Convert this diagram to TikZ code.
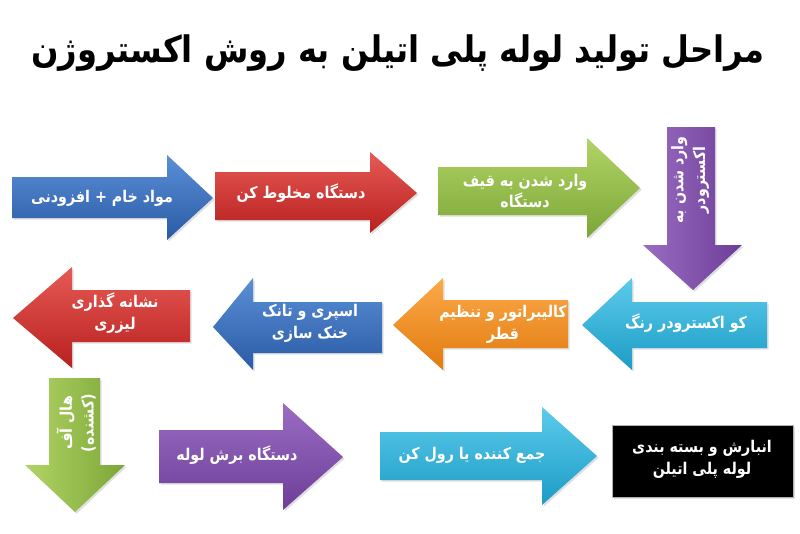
\documentclass[tikz,border=0pt]{standalone}
\usepackage{fontspec}
\usepackage{tikz}
\usetikzlibrary{shadows}
\newfontfamily\arabicfont[Script=Arabic, FakeStretch=0.88]{DejaVu Sans}
\TeXXeTstate=1
\newcommand{\rline}[1]{\beginR #1\endR}

\definecolor{blueA}{HTML}{5A8FD6}\definecolor{blueB}{HTML}{2A5BA6}
\definecolor{redA}{HTML}{E65A55}\definecolor{redB}{HTML}{B8201E}
\definecolor{greenA}{HTML}{B2D466}\definecolor{greenB}{HTML}{7BA637}
\definecolor{purpA}{HTML}{9A6CC2}\definecolor{purpB}{HTML}{6C3E98}
\definecolor{cyanA}{HTML}{5CCBEB}\definecolor{cyanB}{HTML}{1C9CC6}
\definecolor{oranA}{HTML}{FBAA4A}\definecolor{oranB}{HTML}{E27A0E}

\tikzset{
  stage/.style={drop shadow={opacity=0.25, shadow xshift=1.2pt, shadow yshift=-1.2pt}},
  stagetext/.style={text=white, align=center, inner sep=0pt,
    font=\arabicfont\bfseries\fontsize{11.5}{15.5}\selectfont},
}

\begin{document}
\begin{tikzpicture}[x=0.025cm, y=-0.025cm]
        \useasboundingbox (0,0) rectangle (800,533);

        \node [font=\arabicfont\bfseries\fontsize{26}{30}\selectfont] (title) at (398,53) {\rline{مراحل تولید لوله  پلی اتیلن به روش اکستروژن}};

        \shade [stage, top color=blueA, bottom color=blueB]   (12,177) -- (167,177) -- (167,155) -- (213,198) -- (167,240) -- (167,218) -- (12,218) -- cycle;
        \shade [stage, top color=redA, bottom color=redB]     (215,172) -- (370,172) -- (370,152) -- (417,193) -- (370,233) -- (370,220) -- (215,220) -- cycle;
        \shade [stage, top color=greenA, bottom color=greenB] (438,167) -- (587,167) -- (587,138) -- (640,188) -- (587,238) -- (587,215) -- (438,215) -- cycle;
        \shade [stage, left color=purpA, right color=purpB]   (667,127) -- (715,127) -- (715,245) -- (742,245) -- (693,290) -- (643,245) -- (667,245) -- cycle;

        \shade [stage, top color=cyanA, bottom color=cyanB]   (767,302) -- (632,302) -- (632,278) -- (582,325) -- (632,370) -- (632,348) -- (767,348) -- cycle;
        \shade [stage, top color=oranA, bottom color=oranB]   (568,300) -- (443,300) -- (443,278) -- (393,325) -- (443,370) -- (443,348) -- (568,348) -- cycle;
        \shade [stage, top color=blueA, bottom color=blueB]   (382,302) -- (253,302) -- (253,278) -- (213,327) -- (253,370) -- (253,353) -- (382,353) -- cycle;
        \shade [stage, top color=redA, bottom color=redB]     (190,290) -- (72,290) -- (72,267) -- (13,318) -- (72,368) -- (72,342) -- (190,342) -- cycle;

        \shade [stage, left color=greenA, right color=greenB] (49,378) -- (100,378) -- (100,465) -- (125,465) -- (75,512) -- (25,465) -- (49,465) -- cycle;
        \shade [stage, top color=purpA, bottom color=purpB]   (159,430) -- (283,430) -- (283,403) -- (343,457) -- (283,510) -- (283,483) -- (159,483) -- cycle;
        \shade [stage, top color=cyanA, bottom color=cyanB]   (380,432) -- (542,432) -- (542,407) -- (597,456) -- (542,505) -- (542,480) -- (380,480) -- cycle;
        \draw  [stage, fill=black, draw=gray!60]              (612,425) rectangle (793,497);

        \node [stagetext] (raw)      at (102,198) {\rline{مواد خام + افزودنی}};
        \node [stagetext] (mixer)    at (301,193) {\rline{دستگاه مخلوط کن}};
        \node [stagetext] (hopper)   at (525,191) {\rline{وارد شدن به قیف}\\\rline{دستگاه}};
        \node [stagetext, rotate=90] (extruder) at (690,180) {\rline{وارد شدن به}\\\rline{اکسترودر}};
        \node [stagetext] (coex)     at (686,323) {\rline{کو اکسترودر رنگ}};
        \node [stagetext] (calib)    at (503,324) {\rline{کالیبراتور و تنظیم}\\\rline{قطر}};
        \node [stagetext] (cooling)  at (310,323) {\rline{اسپری و تانک}\\\rline{خنک سازی}};
        \node [stagetext] (laser)    at (115,313) {\rline{نشانه گذاری}\\\rline{لیزری}};
        \node [stagetext, rotate=90] (haul)     at (76,423) {\rline{هال آف}\\\rline{(کشنده)}};
        \node [stagetext] (cutter)   at (237,455) {\rline{دستگاه برش لوله}};
        \node [stagetext] (coiler)   at (472,455) {\rline{جمع کننده یا رول کن}};
        \node [stagetext] (store)    at (702,459) {\rline{انبارش و بسته بندی}\\\rline{لوله پلی اتیلن}};
\end{tikzpicture}
\end{document}
